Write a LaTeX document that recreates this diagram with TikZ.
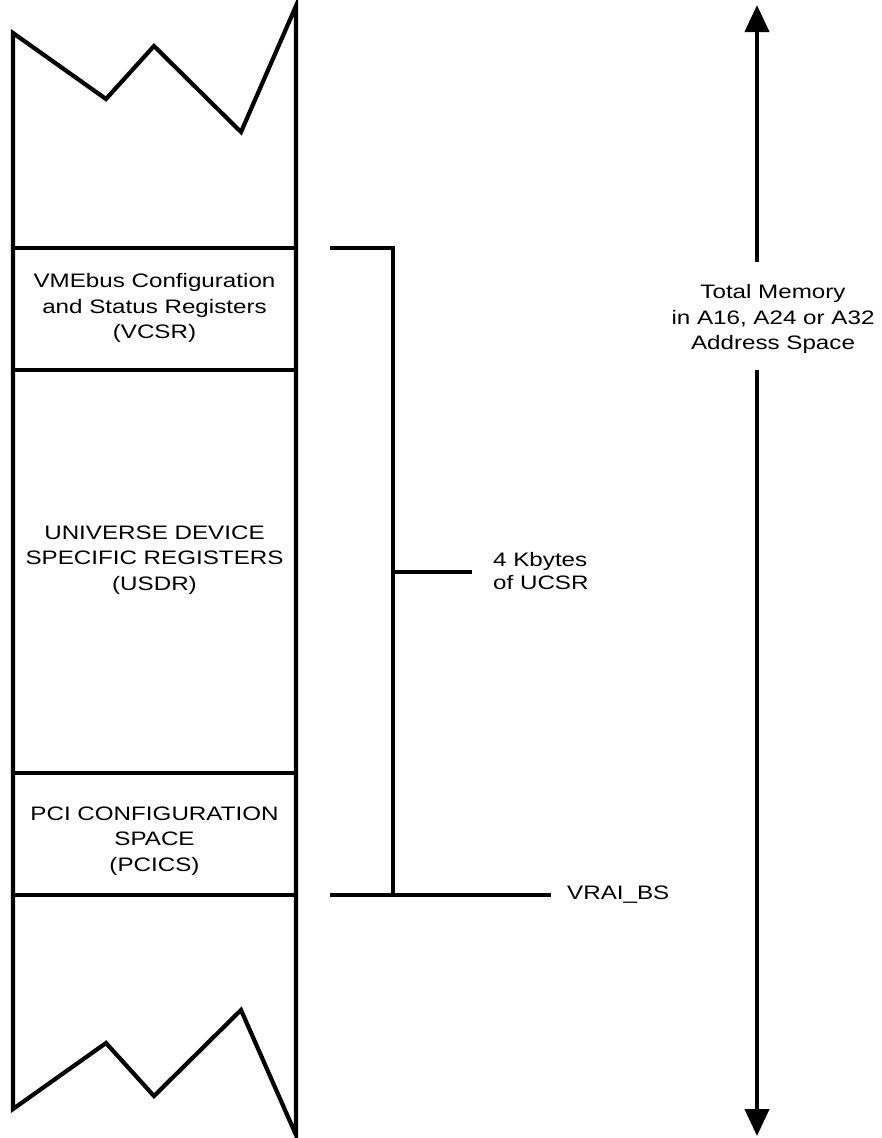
\documentclass[tikz,border=0pt]{standalone}
\usepackage{fontspec}
\setmainfont{Liberation Sans}[FakeStretch=1.24]
\usetikzlibrary{arrows.meta}
\begin{document}
\begin{tikzpicture}[x=1pt,y=-1pt,
  thick line/.style={line width=4.2pt},
  lbl/.style={font=\fontsize{19.5}{25.5}\selectfont, inner sep=0pt, align=center},
  tip/.style={-{Triangle[width=24pt,length=27pt]}}]
\useasboundingbox (0,0) rectangle (882,1138);
% memory column outline with broken ends
\coordinate (tl) at (13,248);  \coordinate (tr) at (296,248);
\coordinate (l2) at (13,370);  \coordinate (r2) at (296,370);
\coordinate (l3) at (13,773);  \coordinate (r3) at (296,773);
\coordinate (bl) at (13,895);  \coordinate (br) at (296,895);
\draw[thick line] (13,33) -- (106,99) -- (154,46) -- (241,132) -- (296,6)
  -- (296,1135) -- (241,1010) -- (154,1096) -- (106,1043) -- (13,1109) -- cycle;
\draw[thick line] (tl) -- (tr);
\draw[thick line] (l2) -- (r2);
\draw[thick line] (l3) -- (r3);
\draw[thick line] (bl) -- (br);
% region labels
\node[lbl] (vcsr) at (154.5,308) {VMEbus Configuration\\and Status Registers\\(VCSR)};
\node[lbl] (usdr) at (154.5,560) {UNIVERSE DEVICE\\SPECIFIC REGISTERS\\(USDR)};
\node[lbl] (pcics) at (154.5,841) {PCI CONFIGURATION\\SPACE\\(PCICS)};
% bracket
\coordinate (bt0) at (330,248);
\coordinate (bt) at (393,248);
\coordinate (bb) at (393,895);
\coordinate (bb0) at (330,895);
\coordinate (bbe) at (551,895);
\coordinate (bm) at (393,572);
\coordinate (bme) at (472,572);
\draw[thick line] (bt0) -- (bt) -- (bb);
\draw[thick line] (bb0) -- (bbe);
\draw[thick line] (bm) -- (bme);
\node[lbl, align=left, anchor=west, font=\fontsize{19.5}{23}\selectfont] (kb) at (493,571) {4 Kbytes\\of UCSR};
\node[lbl, anchor=west] (vrai) at (567,895) {VRAI\_BS};
% total memory arrow
\node[lbl] (total) at (773,319) {Total Memory\\in A16, A24 or A32\\Address Space};
\coordinate (a1) at (757,262);
\coordinate (a1e) at (757,5);
\coordinate (a2) at (757,370);
\coordinate (a2e) at (757,1136);
\draw[thick line, tip] (a1) -- (a1e);
\draw[thick line, tip] (a2) -- (a2e);
\end{tikzpicture}
\end{document}
